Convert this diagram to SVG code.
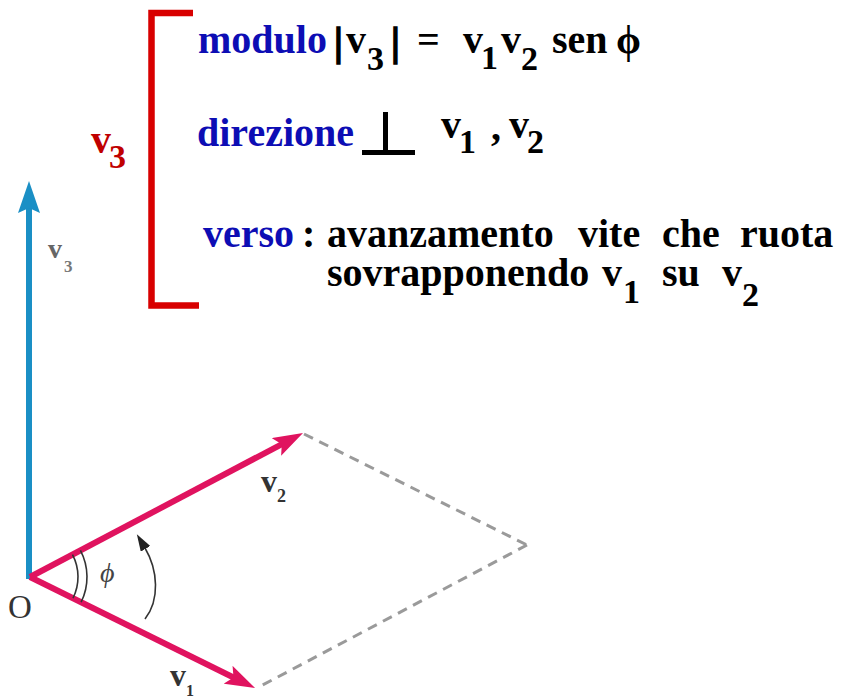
<svg xmlns="http://www.w3.org/2000/svg" width="841" height="700" viewBox="0 0 841 700">
<style>
.t{font-family:"Liberation Serif","Times New Roman",serif;font-weight:bold;font-size:40px;fill:#000}
.s{font-size:34px}
.blue{fill:#0d0db4}
.red{fill:#c00000}
.bar{stroke:#000;stroke-width:1.6}
.lab{font-family:"Liberation Serif","Times New Roman",serif;font-weight:bold;fill:#333}
.pink{stroke:#e0135f;stroke-width:6;fill:none}
.dash{stroke:#9a9a9a;stroke-width:3;stroke-dasharray:10 7;fill:none}
.thin{stroke:#333;stroke-width:1.6;fill:none}
</style>
<defs>
<marker id="ahPink" viewBox="0 0 30 20" refX="10" refY="10" markerWidth="30" markerHeight="20" markerUnits="userSpaceOnUse" orient="auto">
<path d="M0,0 L30,10 L0,20 L6,10 Z" fill="#e0135f"/>
</marker>
<marker id="ahBlue" viewBox="0 0 32 22" refX="8" refY="11" markerWidth="32" markerHeight="22" markerUnits="userSpaceOnUse" orient="auto">
<path d="M0,0 L32,11 L0,22 L5,11 Z" fill="#1a8fc5"/>
</marker>
<marker id="ahBlack" viewBox="0 0 17 11" refX="1" refY="5.5" markerWidth="17" markerHeight="11" markerUnits="userSpaceOnUse" orient="auto">
<path d="M0,0 L17,5.5 L0,11 Z" fill="#222"/>
</marker>
</defs>

<g id="bracket">
<path d="M193,13 L151.5,13 L151.5,305.5 L199,305.5" fill="none" stroke="#d80000" stroke-width="6.5" stroke-linejoin="miter"/>
</g>

<g id="label-v3-red">
<text class="t red" x="91" y="153">v</text>
<text class="t s red" x="109" y="168">3</text>
</g>

<g id="line-modulo">
<text class="t blue" x="198" y="53">modulo</text>
<text class="t bar" x="334" y="55" font-size="44">|</text>
<text class="t" x="346" y="53">v</text>
<text class="t s" x="367" y="70">3</text>
<text class="t bar" x="391" y="55" font-size="44">|</text>
<text class="t" x="417" y="53">=</text>
<text class="t" x="463" y="53">v</text>
<text class="t s" x="481" y="69">1</text>
<text class="t" x="501" y="53">v</text>
<text class="t s" x="521" y="70">2</text>
<text class="t" x="552" y="53">sen</text>
<text class="t" x="616" y="53">ϕ</text>
</g>

<g id="line-direzione">
<text class="t blue" x="197" y="146">direzione</text>
<path d="M385.5,112 L385.5,152 M362,152.5 L415,152.5" stroke="#000" stroke-width="5" fill="none"/>
<text class="t" x="441" y="138">v</text>
<text class="t s" x="459" y="153">1</text>
<text class="t" x="491" y="140">,</text>
<text class="t" x="509" y="138">v</text>
<text class="t s" x="527" y="153">2</text>
</g>

<g id="line-verso">
<text class="t blue" x="203" y="247">verso</text>
<text class="t" x="302" y="247">:</text>
<text class="t" x="327" y="247">avanzamento</text>
<text class="t" x="578" y="247">vite</text>
<text class="t" x="662" y="247">che</text>
<text class="t" x="740" y="247">ruota</text>
<text class="t" x="327" y="286">sovrapponendo</text>
<text class="t" x="602" y="286">v</text>
<text class="t s" x="623" y="303">1</text>
<text class="t" x="662" y="286">su</text>
<text class="t" x="722" y="286">v</text>
<text class="t s" x="742" y="306">2</text>
</g>

<g id="connectors">
<line id="vec-v3" x1="29" y1="579" x2="29" y2="205" stroke="#1a8fc5" stroke-width="6" marker-end="url(#ahBlue)"/>
<line id="vec-v2" class="pink" x1="30" y1="577" x2="285.3" y2="442.3" marker-end="url(#ahPink)"/>
<line id="vec-v1" class="pink" x1="30" y1="577" x2="237.1" y2="679.2" marker-end="url(#ahPink)"/>
<path id="dash-a" class="dash" d="M304,434 L527,545"/>
<path id="dash-b" class="dash" d="M527,545 L257,688"/>
<path id="angle-arc-inner" class="thin" d="M72.5,554.6 A48,48 0 0 1 73,598.2"/>
<path id="angle-arc-outer" class="thin" d="M80.4,550.4 A57,57 0 0 1 81.1,602.2"/>
<path id="rotation-arrow" class="thin" d="M145,619 C160,600 158,570 145,548" marker-end="url(#ahBlack)"/>
</g>

<g id="label-v3">
<text class="lab" x="48" y="258" font-size="28" style="fill:#666">v</text>
<text class="lab" x="64" y="272" font-size="17" style="fill:#777">3</text>
</g>
<g id="label-v2">
<text class="lab" x="261" y="492" font-size="32">v</text>
<text class="lab" x="277" y="502" font-size="18">2</text>
</g>
<g id="label-v1">
<text class="lab" x="170" y="686" font-size="32">v</text>
<text class="lab" x="186" y="696" font-size="16">1</text>
</g>
<g id="label-O">
<text x="8" y="618" font-family="Liberation Serif, Times New Roman, serif" font-size="33" fill="#333">O</text>
</g>
<g id="label-phi">
<text x="100" y="582" font-family="Liberation Serif, Times New Roman, serif" font-style="italic" font-size="28" fill="#444">ϕ</text>
</g>
</svg>
